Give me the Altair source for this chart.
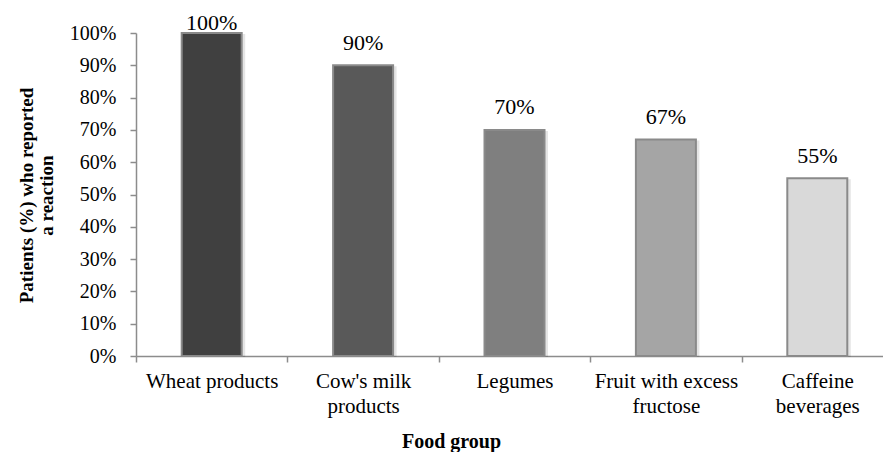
import altair as alt
import pandas as pd

# Food groups (each entry is the list of lines shown under the bar)
categories = [
    ["Wheat products"],
    ["Cow's milk", "products"],
    ["Legumes"],
    ["Fruit with excess", "fructose"],
    ["Caffeine", "beverages"],
]
percent_reported = [100, 90, 70, 67, 55]
bar_colors = ["#404040", "#595959", "#7f7f7f", "#a5a5a5", "#d9d9d9"]
y_ticks = [0, 10, 20, 30, 40, 50, 60, 70, 80, 90, 100]

names = ["\n".join(c) for c in categories]
df = pd.DataFrame({
    "group": names,
    "pct": percent_reported,
    "color": bar_colors,
    "label": [f"{v}%" for v in percent_reported],
})

FONT = "Liberation Serif"
AXIS_GRAY = "#8c8c8c"

x_axis = alt.Axis(
    title="Food group",
    titleFont=FONT,
    titleFontSize=20,
    titleFontWeight="bold",
    titleColor="black",
    titleX=315,
    titleY=85,
    titleBaseline="middle",
    titleAnchor="start",
    titleAlign="center",
    labelExpr="isValid(datum.value) ? split(datum.value, '\\n') : ''",
    labelFont=FONT,
    labelFontSize=21,
    labelColor="black",
    labelLineHeight=25,
    labelPadding=8,
    labelAngle=0,
    labelBaseline="top",
    labelOverlap=False,
    tickBand="extent",
    tickSize=6,
    tickColor=AXIS_GRAY,
    tickWidth=1.5,
    domainColor=AXIS_GRAY,
    domainWidth=1.5,
    grid=False,
)

y_axis = alt.Axis(
    title=["Patients (%) who reported", "a reaction"],
    titleFont=FONT,
    titleFontSize=19,
    titleFontWeight="bold",
    titleColor="black",
    titleLineHeight=20,
    titleX=-110,
    titleY=162,
    titleAngle=-90,
    titleAlign="center",
    titleBaseline="middle",
    values=y_ticks,
    labelExpr="datum.value + '%'",
    labelFont=FONT,
    labelFontSize=20,
    labelColor="black",
    labelPadding=14,
    labelOverlap=False,
    tickSize=6,
    tickColor=AXIS_GRAY,
    tickWidth=1.5,
    domainColor=AXIS_GRAY,
    domainWidth=1.5,
    grid=False,
)

x_scale = alt.Scale(range=[0, 757], paddingInner=0, paddingOuter=0)
y_scale = alt.Scale(domain=[0, 100], nice=False)

base = alt.Chart(df)

# Soft drop shadow behind each bar
shadow = base.mark_bar(
    size=63, color="#000000", opacity=0.10, xOffset=2, yOffset=1
).encode(
    x=alt.X("group:N", sort=names, scale=x_scale, axis=x_axis),
    y=alt.Y("pct:Q", scale=y_scale, axis=y_axis),
)

bars = base.mark_bar(
    size=60, stroke="#8a8a8a", strokeWidth=2
).encode(
    x=alt.X("group:N", sort=names, scale=x_scale, axis=x_axis),
    y=alt.Y("pct:Q", scale=y_scale, axis=y_axis),
    color=alt.Color("color:N", scale=None),
)

# Value labels sit above each bar; the top one is held just inside the chart
labels = base.transform_calculate(
    ypos="min(datum.pct + 7.0, 103.2)"
).mark_text(
    font=FONT, fontSize=22, color="black", baseline="middle"
).encode(
    x=alt.X("group:N", sort=names, scale=x_scale, axis=x_axis),
    y=alt.Y("ypos:Q", scale=y_scale, axis=y_axis),
    text="label:N",
)

chart = alt.layer(shadow, bars, labels).properties(
    width=747,
    height=323,
    autosize=alt.AutoSizeParams(type="none"),
    padding={"left": 136, "top": 33, "right": 0, "bottom": 96},
).configure(background="white").configure_view(strokeOpacity=0, strokeWidth=0)

chart.save("out.html", embed_options={"renderer": "svg", "actions": False})
